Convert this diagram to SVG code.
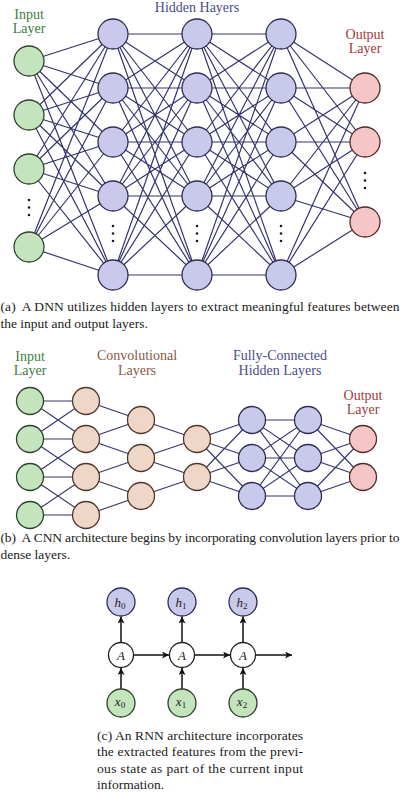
<svg xmlns="http://www.w3.org/2000/svg" xmlns:xlink="http://www.w3.org/1999/xlink" width="400" height="792" viewBox="0 0 400 792">
<style>
.bg{fill:#fff}
.e{fill:none;stroke:#34346e;stroke-width:1.2}
.ce{fill:none;stroke:#34346e;stroke-width:1.1}
.hid{fill:#c9c9eb;stroke:#2e2e55;stroke-width:1.3}
.inp{fill:#c3e4bd;stroke:#2d412d;stroke-width:1.3}
.out{fill:#f6c6c6;stroke:#4e2b2b;stroke-width:1.3}
.conv{fill:#efd6c6;stroke:#50362c;stroke-width:1.3}
.a{fill:#fff;stroke:#222;stroke-width:1.3}
.lbl{font-family:"Liberation Serif","DejaVu Serif",serif;font-size:14px;text-anchor:middle}
.lg{fill:#3d7d3d}.lh{fill:#4b4b8c}.lo{fill:#9e3b3b}.lc{fill:#8a5a48}
.cap{font-family:"Liberation Serif","Times New Roman",serif;font-size:13.5px;fill:#1a1a1a}
.dot{fill:#1a1a1a}
.arr{fill:none;stroke:#111;stroke-width:1.5;marker-end:url(#ah)}
.m{font-family:"Liberation Serif","DejaVu Serif",serif;font-style:italic;font-size:13px;text-anchor:middle;fill:#222}
.sub{font-size:9px;font-style:normal}
</style>
<defs>
<marker id="ah" markerUnits="userSpaceOnUse" markerWidth="8" markerHeight="7" refX="7" refY="3.5" orient="auto">
<path d="M0 0L7 3.5L0 7L1.8 3.5Z" fill="#111"/>
</marker>
<path id="hh" class="e" d="M113 34L197 34M113 34L197 88M113 34L197 142M113 34L197 196M113 34L197 275M113 88L197 34M113 88L197 88M113 88L197 142M113 88L197 196M113 88L197 275M113 142L197 34M113 142L197 88M113 142L197 142M113 142L197 196M113 142L197 275M113 196L197 34M113 196L197 88M113 196L197 142M113 196L197 196M113 196L197 275M113 275L197 34M113 275L197 88M113 275L197 142M113 275L197 196M113 275L197 275"/>
</defs>
<rect class="bg" x="0" y="0" width="400" height="792"/>

<!-- ===== DNN ===== -->
<g id="dnn-connectors">
<path class="e" d="M29 61L113 34M29 61L113 88M29 61L113 142M29 61L113 196M29 61L113 275M29 115L113 34M29 115L113 88M29 115L113 142M29 115L113 196M29 115L113 275M29 169L113 34M29 169L113 88M29 169L113 142M29 169L113 196M29 169L113 275M29 247L113 34M29 247L113 88M29 247L113 142M29 247L113 196M29 247L113 275"/>
<use xlink:href="#hh" href="#hh"/>
<use xlink:href="#hh" href="#hh" transform="translate(84 0)"/>
<path class="e" d="M281 34L365 88M281 34L365 142M281 34L365 222M281 88L365 88M281 88L365 142M281 88L365 222M281 142L365 88M281 142L365 142M281 142L365 222M281 196L365 88M281 196L365 142M281 196L365 222M281 275L365 88M281 275L365 142M281 275L365 222"/>
</g>
<g id="dnn-input">
<circle class="inp" cx="29" cy="61" r="15"/>
<circle class="inp" cx="29" cy="115" r="15"/>
<circle class="inp" cx="29" cy="169" r="15"/>
<circle class="inp" cx="29" cy="247" r="15"/>
<circle class="dot" cx="29" cy="200" r="1.3"/><circle class="dot" cx="29" cy="207.5" r="1.3"/><circle class="dot" cx="29" cy="215" r="1.3"/>
</g>
<g id="dnn-hidden1">
<circle class="hid" cx="113" cy="34" r="15"/>
<circle class="hid" cx="113" cy="88" r="15"/>
<circle class="hid" cx="113" cy="142" r="15"/>
<circle class="hid" cx="113" cy="196" r="15"/>
<circle class="hid" cx="113" cy="275" r="15"/>
<circle class="dot" cx="113" cy="226" r="1.3"/><circle class="dot" cx="113" cy="233.5" r="1.3"/><circle class="dot" cx="113" cy="241" r="1.3"/>
</g>
<g id="dnn-hidden2">
<circle class="hid" cx="197" cy="34" r="15"/>
<circle class="hid" cx="197" cy="88" r="15"/>
<circle class="hid" cx="197" cy="142" r="15"/>
<circle class="hid" cx="197" cy="196" r="15"/>
<circle class="hid" cx="197" cy="275" r="15"/>
<circle class="dot" cx="197" cy="226" r="1.3"/><circle class="dot" cx="197" cy="233.5" r="1.3"/><circle class="dot" cx="197" cy="241" r="1.3"/>
</g>
<g id="dnn-hidden3">
<circle class="hid" cx="281" cy="34" r="15"/>
<circle class="hid" cx="281" cy="88" r="15"/>
<circle class="hid" cx="281" cy="142" r="15"/>
<circle class="hid" cx="281" cy="196" r="15"/>
<circle class="hid" cx="281" cy="275" r="15"/>
<circle class="dot" cx="281" cy="226" r="1.3"/><circle class="dot" cx="281" cy="233.5" r="1.3"/><circle class="dot" cx="281" cy="241" r="1.3"/>
</g>
<g id="dnn-output">
<circle class="out" cx="365" cy="88" r="15"/>
<circle class="out" cx="365" cy="142" r="15"/>
<circle class="out" cx="365" cy="222" r="15"/>
<circle class="dot" cx="365" cy="173" r="1.3"/><circle class="dot" cx="365" cy="180.5" r="1.3"/><circle class="dot" cx="365" cy="188" r="1.3"/>
</g>
<g id="dnn-labels">
<text class="lbl lg" x="29" y="19">Input</text>
<text class="lbl lg" x="29" y="33">Layer</text>
<text class="lbl lh" x="197" y="11.5">Hidden Hayers</text>
<text class="lbl lo" x="365" y="39">Output</text>
<text class="lbl lo" x="365" y="53">Layer</text>
</g>
<g id="caption-a" class="cap">
<text x="0.5" y="311" textLength="399" xml:space="preserve">(a)  A DNN utilizes hidden layers to extract meaningful features between</text>
<text x="0.5" y="327.5">the input and output layers.</text>
</g>

<!-- ===== CNN ===== -->
<g id="cnn-connectors">
<path class="ce" d="M30 401L86 401M30 401L86 439M30 439L86 401M30 439L86 439M30 439L86 477M30 477L86 439M30 477L86 477M30 477L86 515M30 515L86 477M30 515L86 515"/>
<path class="ce" d="M86 401L141 420M86 439L141 420M86 439L141 458M86 477L141 458M86 477L141 496M86 515L141 496"/>
<path class="ce" d="M141 420L197 439M141 458L197 439M141 458L197 477M141 496L197 477"/>
<path class="ce" d="M197 439L252 420M197 439L252 458M197 439L252 496M197 477L252 420M197 477L252 458M197 477L252 496"/>
<path class="ce" d="M252 420L308 420M252 420L308 458M252 420L308 496M252 458L308 420M252 458L308 458M252 458L308 496M252 496L308 420M252 496L308 458M252 496L308 496"/>
<path class="ce" d="M308 420L363 439M308 420L363 477M308 458L363 439M308 458L363 477M308 496L363 439M308 496L363 477"/>
</g>
<g id="cnn-input">
<circle class="inp" cx="30" cy="401" r="13.5"/>
<circle class="inp" cx="30" cy="439" r="13.5"/>
<circle class="inp" cx="30" cy="477" r="13.5"/>
<circle class="inp" cx="30" cy="515" r="13.5"/>
</g>
<g id="cnn-conv1">
<circle class="conv" cx="86" cy="401" r="13.5"/>
<circle class="conv" cx="86" cy="439" r="13.5"/>
<circle class="conv" cx="86" cy="477" r="13.5"/>
<circle class="conv" cx="86" cy="515" r="13.5"/>
</g>
<g id="cnn-conv2">
<circle class="conv" cx="141" cy="420" r="13.5"/>
<circle class="conv" cx="141" cy="458" r="13.5"/>
<circle class="conv" cx="141" cy="496" r="13.5"/>
</g>
<g id="cnn-conv3">
<circle class="conv" cx="197" cy="439" r="13.5"/>
<circle class="conv" cx="197" cy="477" r="13.5"/>
</g>
<g id="cnn-hidden1">
<circle class="hid" cx="252" cy="420" r="13.5"/>
<circle class="hid" cx="252" cy="458" r="13.5"/>
<circle class="hid" cx="252" cy="496" r="13.5"/>
</g>
<g id="cnn-hidden2">
<circle class="hid" cx="308" cy="420" r="13.5"/>
<circle class="hid" cx="308" cy="458" r="13.5"/>
<circle class="hid" cx="308" cy="496" r="13.5"/>
</g>
<g id="cnn-output">
<circle class="out" cx="363" cy="439" r="13.5"/>
<circle class="out" cx="363" cy="477" r="13.5"/>
</g>
<g id="cnn-labels">
<text class="lbl lg" x="30" y="361">Input</text>
<text class="lbl lg" x="30" y="375">Layer</text>
<text class="lbl lc" x="137" y="360">Convolutional</text>
<text class="lbl lc" x="137" y="375">Layers</text>
<text class="lbl lh" x="280" y="360">Fully-Connected</text>
<text class="lbl lh" x="280" y="375">Hidden Layers</text>
<text class="lbl lo" x="363" y="400">Output</text>
<text class="lbl lo" x="363" y="414">Layer</text>
</g>
<g id="caption-b" class="cap">
<text x="0.5" y="542" textLength="399" xml:space="preserve">(b)  A CNN architecture begins by incorporating convolution layers prior to</text>
<text x="0.5" y="558.5">dense layers.</text>
</g>

<!-- ===== RNN ===== -->
<g id="rnn-connectors">
<path class="arr" d="M121 689L121 668"/>
<path class="arr" d="M182 689L182 668"/>
<path class="arr" d="M243 689L243 668"/>
<path class="arr" d="M121 642.5L121 616.5"/>
<path class="arr" d="M182 642.5L182 616.5"/>
<path class="arr" d="M243 642.5L243 616.5"/>
<path class="arr" d="M133.5 655L169 655"/>
<path class="arr" d="M194.5 655L230 655"/>
<path class="arr" d="M255.5 655L292 655"/>
</g>
<g id="rnn-h0"><circle class="hid" cx="121" cy="602" r="14"/><text class="m" x="120" y="606.5">h<tspan class="sub" dy="2.5">0</tspan></text></g>
<g id="rnn-h1"><circle class="hid" cx="182" cy="602" r="14"/><text class="m" x="181" y="606.5">h<tspan class="sub" dy="2.5">1</tspan></text></g>
<g id="rnn-h2"><circle class="hid" cx="243" cy="602" r="14"/><text class="m" x="242" y="606.5">h<tspan class="sub" dy="2.5">2</tspan></text></g>
<g id="rnn-a0"><circle class="a" cx="121" cy="655" r="12.5"/><text class="m" x="121" y="659.5">A</text></g>
<g id="rnn-a1"><circle class="a" cx="182" cy="655" r="12.5"/><text class="m" x="182" y="659.5">A</text></g>
<g id="rnn-a2"><circle class="a" cx="243" cy="655" r="12.5"/><text class="m" x="243" y="659.5">A</text></g>
<g id="rnn-x0"><circle class="inp" cx="121" cy="703" r="14"/><text class="m" x="120" y="705.5">x<tspan class="sub" dy="2.5">0</tspan></text></g>
<g id="rnn-x1"><circle class="inp" cx="182" cy="703" r="14"/><text class="m" x="181" y="705.5">x<tspan class="sub" dy="2.5">1</tspan></text></g>
<g id="rnn-x2"><circle class="inp" cx="243" cy="703" r="14"/><text class="m" x="242" y="705.5">x<tspan class="sub" dy="2.5">2</tspan></text></g>
<g id="caption-c" class="cap">
<text x="97" y="739.5" textLength="206">(c) An RNN architecture incorporates</text>
<text x="97" y="756" textLength="206">the extracted features from the previ-</text>
<text x="97" y="772.5" textLength="206">ous state as part of the current input</text>
<text x="97" y="788.5">information.</text>
</g>
</svg>
